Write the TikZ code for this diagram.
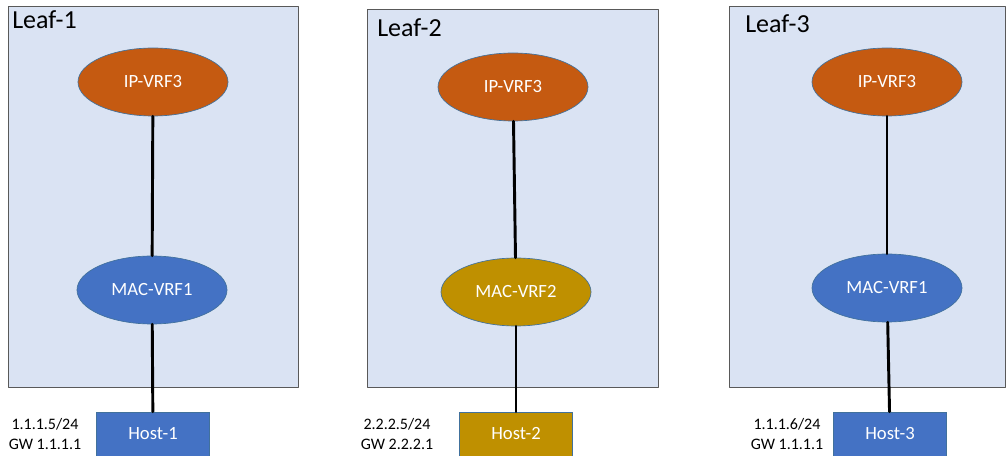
\documentclass[tikz,border=0pt]{standalone}
\usepackage{fontspec}
\setmainfont{Carlito}
\usetikzlibrary{shapes.geometric}

\definecolor{leaffill}{HTML}{DAE3F3}
\definecolor{leafline}{HTML}{595959}
\definecolor{iporange}{HTML}{C55A11}
\definecolor{macblue}{HTML}{4472C4}
\definecolor{macgold}{HTML}{BF9000}
\definecolor{rimblue}{HTML}{41719C}

\begin{document}
\begin{tikzpicture}[x=0.75pt, y=-0.75pt, line cap=round, line join=round,
    leafbox/.style={draw=leafline, fill=leaffill, line width=0.6pt},
    leaftitle/.style={anchor=base west, inner sep=0pt, font=\fontsize{19.5}{22}\selectfont},
    vrf/.style={ellipse, draw=rimblue, line width=0.5pt, minimum width=112.5pt,
      minimum height=51pt, inner sep=0pt, text=white, font=\fontsize{14}{16}\selectfont},
    ipvrf/.style={vrf, fill=iporange},
    macvrf/.style={vrf, fill=macblue},
    hostbox/.style={rectangle, draw=rimblue, line width=0.5pt, minimum width=85pt,
      minimum height=33pt, inner sep=0pt, text=white, font=\fontsize{14}{16}\selectfont},
    addr/.style={align=center, inner sep=0pt, font=\fontsize{12}{14.4}\selectfont},
    link/.style={line width=2.2pt}]
    \clip (0,0) rectangle (1008,456);

    % leaf boxes
    \draw[leafbox] (8,6) rectangle (298,387);
    \draw[leafbox] (367,9) rectangle (658,387);
    \draw[leafbox] (729,6) rectangle (1005,387);
    \node[leaftitle] (t1) at (12,29) {Leaf-1};
    \node[leaftitle] (t2) at (377,37) {Leaf-2};
    \node[leaftitle] (t3) at (745,33) {Leaf-3};

    % vrfs
    \node[ipvrf] (ip1) at (153,82) {IP-VRF3};
    \node[macvrf] (mac1) at (152,290) {MAC-VRF1};
    \node[ipvrf] (ip2) at (513,87) {IP-VRF3};
    \node[macvrf, fill=macgold] (mac2) at (516,292) {MAC-VRF2};
    \node[ipvrf] (ip3) at (887,82) {IP-VRF3};
    \node[macvrf] (mac3) at (887,288) {MAC-VRF1};

    % hosts
    \node[hostbox, fill=macblue] (h1) at (153,434) {Host-1};
    \node[hostbox, fill=macgold] (h2) at (516,434) {Host-2};
    \node[hostbox, fill=macblue] (h3) at (890,434) {Host-3};
    \node[addr] (a1) at (45,434) {1.1.1.5/24\\GW 1.1.1.1};
    \node[addr] (a2) at (397,434) {2.2.2.5/24\\GW 2.2.2.1};
    \node[addr] (a3) at (787,434) {1.1.1.6/24\\GW 1.1.1.1};

    \draw[link] (ip1) -- (mac1);
    \draw[link] (mac1) -- (h1);
    \draw[link] (ip2) -- (mac2);
    \draw[link] (mac2) -- (h2);
    \draw[link] (ip3) -- (mac3);
    \draw[link] (mac3) -- (h3);
\end{tikzpicture}
\end{document}
